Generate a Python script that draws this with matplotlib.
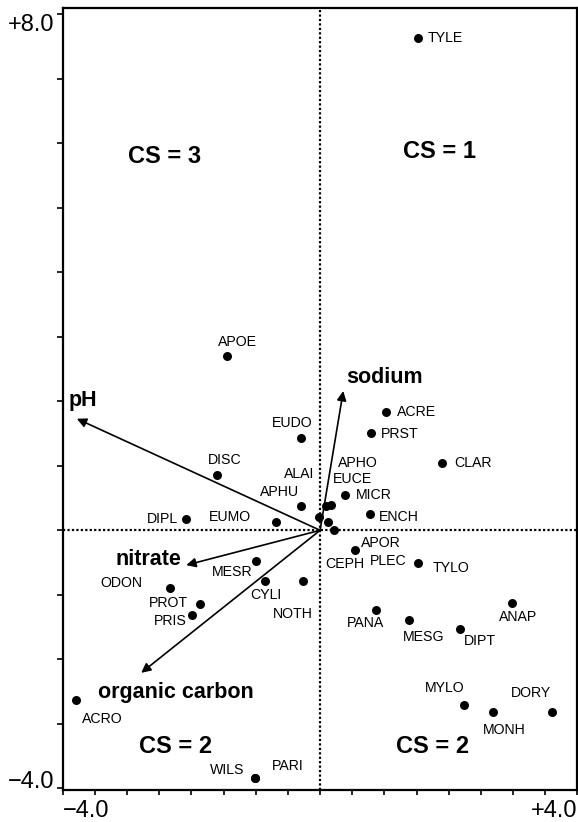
import matplotlib
matplotlib.use("Agg")
import matplotlib.pyplot as plt
from matplotlib.transforms import ScaledTranslation

plt.rcParams['font.family'] = ['Liberation Sans', 'DejaVu Sans']

# Species scores (axis 1, axis 2)
species = ['TYLE', 'APOE', 'ACRE', 'PRST', 'EUDO', 'CLAR', 'DISC', 'MICR',
           'APHU', 'ENCH', 'DIPL', 'EUMO', 'ALAI', 'APHO', 'EUCE', 'CEPH',
           'PLEC', 'APOR', 'TYLO', 'MESR', 'CYLI', 'NOTH', 'ODON', 'PROT',
           'PRIS', 'PANA', 'MESG', 'DIPT', 'ANAP', 'MYLO', 'MONH', 'DORY',
           'ACRO', 'WILS', 'PARI']
sp_x = [1.52, -1.44, 1.03, 0.79, -0.29, 1.89, -1.60, 0.38,
        -0.29, 0.78, -2.09, -0.68, -0.02, 0.09, 0.17, 0.13,
        0.21, 0.55, 1.52, -0.99, -0.85, -0.27, -2.34, -1.86,
        -1.99, 0.87, 1.38, 2.17, 2.98, 2.24, 2.68, 3.61,
        -3.79, -1.01, -1.01]
sp_y = [7.63, 2.70, 1.83, 1.51, 1.43, 1.04, 0.85, 0.54,
        0.38, 0.26, 0.18, 0.13, 0.21, 0.38, 0.40, 0.13,
        0.01, -0.31, -0.50, -0.47, -0.79, -0.79, -0.90, -1.14,
        -1.32, -1.23, -1.39, -1.53, -1.13, -2.71, -2.82, -2.81,
        -2.63, -3.84, -3.84]

# Environmental vectors
env = ['pH', 'sodium', 'nitrate', 'organic carbon']
env_x = [-3.78, 0.36, -2.08, -2.78]
env_y = [1.73, 2.16, -0.54, -2.21]

# Cluster labels
cs_text = ['CS = 3', 'CS = 1', 'CS = 2', 'CS = 2']
cs_x = [-2.42, 1.86, -2.24, 1.75]
cs_y = [5.79, 5.88, -3.36, -3.36]

# label placement (x, y, ha)
sp_lab = {
    'TYLE': (1.67, 7.63, 'left'), 'APOE': (-1.28, 2.92, 'center'),
    'ACRE': (1.20, 1.84, 'left'), 'PRST': (0.94, 1.50, 'left'),
    'EUDO': (-0.44, 1.66, 'center'), 'CLAR': (2.09, 1.04, 'left'),
    'DISC': (-1.48, 1.09, 'center'), 'ALAI': (-0.32, 0.87, 'center'),
    'APHO': (0.28, 1.04, 'left'), 'EUCE': (0.20, 0.80, 'left'),
    'APHU': (-0.63, 0.59, 'center'), 'MICR': (0.56, 0.54, 'left'),
    'ENCH': (0.91, 0.21, 'left'), 'DIPL': (-2.21, 0.18, 'right'),
    'EUMO': (-1.40, 0.21, 'center'), 'APOR': (0.64, -0.20, 'left'),
    'CEPH': (0.08, -0.52, 'left'), 'PLEC': (0.78, -0.48, 'left'),
    'TYLO': (1.75, -0.58, 'left'), 'MESR': (-1.36, -0.64, 'center'),
    'ODON': (-3.09, -0.82, 'center'), 'PROT': (-2.36, -1.12, 'center'),
    'PRIS': (-2.33, -1.41, 'center'), 'CYLI': (-0.84, -1.01, 'center'),
    'NOTH': (-0.43, -1.30, 'center'), 'PANA': (0.70, -1.44, 'center'),
    'MESG': (1.61, -1.65, 'center'), 'DIPT': (2.23, -1.72, 'left'),
    'ANAP': (3.08, -1.34, 'center'), 'MYLO': (1.93, -2.45, 'center'),
    'MONH': (2.86, -3.09, 'center'), 'DORY': (3.27, -2.53, 'center'),
    'ACRO': (-3.39, -2.92, 'center'), 'WILS': (-1.44, -3.71, 'center'),
    'PARI': (-0.51, -3.65, 'center'),
}
env_lab = {
    'pH': (-3.91, 2.02, 'left'), 'sodium': (0.40, 2.37, 'left'),
    'nitrate': (-2.66, -0.46, 'center'),
    'organic carbon': (-2.24, -2.51, 'center'),
}

fig = plt.figure(figsize=(5.78, 8.22), dpi=100)
ax = fig.add_axes([0.1085, 0.0395, 0.8906, 0.9508])

ax.set_xlim(-4.0, 4.0)
ax.set_ylim(-4.02, 8.1)

ax.axvline(0, color='black', linestyle=(0, (1, 1)), lw=1.6, zorder=1)
ax.axhline(0, color='black', linestyle=(0, (1, 1)), lw=1.6, zorder=1)

for name, ex, ey in zip(env, env_x, env_y):
    ax.annotate('', xy=(ex, ey), xytext=(0, 0),
                arrowprops=dict(arrowstyle='-|>', color='black', lw=1.2,
                                mutation_scale=14, shrinkA=0, shrinkB=0))
    lx, ly, ha = env_lab[name]
    ax.text(lx, ly, name, ha=ha, va='center', fontsize=15.5,
            fontweight='bold')

ax.scatter(sp_x, sp_y, s=42, color='black', zorder=3, linewidths=0)
for name in species:
    lx, ly, ha = sp_lab[name]
    ax.text(lx, ly, name, ha=ha, va='center', fontsize=10.2)

for t, cx, cy in zip(cs_text, cs_x, cs_y):
    ax.text(cx, cy, t, ha='center', va='center', fontsize=17,
            fontweight='bold')

for s in ax.spines.values():
    s.set_linewidth(1.6)

ax.set_xticks([-4 + 0.5 * i for i in range(17)])
ax.set_xticklabels(['\u22124.0'] + [''] * 15 + ['+4.0'], fontsize=17)
ax.set_yticks(list(range(-4, 9)))
ax.set_yticklabels(['\u22124.0'] + [''] * 11 + ['+8.0'], fontsize=17)
ax.tick_params(axis='x', direction='out', length=3.5, width=1.2, pad=4)
ax.tick_params(axis='y', direction='out', length=4, width=1.2, pad=2)
xl = ax.get_xticklabels()
xl[0].set_ha('left')
xl[-1].set_ha('right')
yl = ax.get_yticklabels()
yl[0].set_va('bottom')
yl[0].set_transform(yl[0].get_transform() +
                    ScaledTranslation(0, -0.05, fig.dpi_scale_trans))
yl[-1].set_va('top')

fig.savefig('out.png', dpi=100)
